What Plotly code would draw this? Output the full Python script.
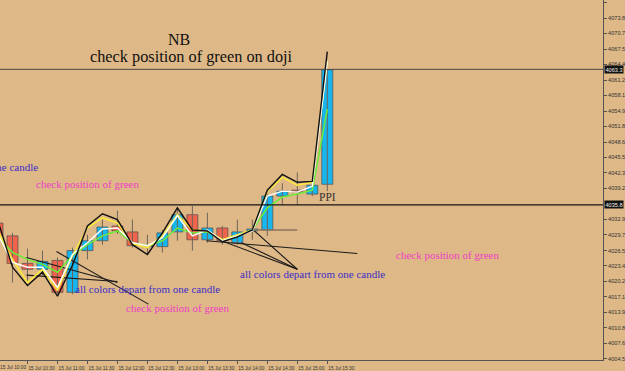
import plotly.graph_objects as go

DAY = "2014-07-15 "

# ---------------- data ----------------
times = ["10:00", "10:15", "10:30", "10:45", "11:00", "11:15", "11:30", "11:45",
         "12:00", "12:15", "12:30", "12:45", "13:00", "13:15", "13:30", "13:45",
         "14:00", "14:15", "14:30", "14:45", "15:00", "15:15", "15:30"]
opens = [4032.1, 4029.5, 4023.9, 4022.7, 4024.5, 4018.0, 4026.5, 4028.5,
         4031.5, 4030.3, 4027.3, 4027.3, 4030.3, 4033.8, 4028.7, 4031.1,
         4028.1, 4030.5, 4030.7, 4037.6, 4038.8, 4038.0, 4040.0]
highs = [4033.2, 4030.1, 4026.9, 4026.5, 4025.1, 4027.1, 4029.7, 4032.8,
         4034.6, 4032.8, 4029.7, 4030.7, 4035.2, 4035.6, 4034.2, 4031.5,
         4032.8, 4032.8, 4038.0, 4040.2, 4042.4, 4040.2, 4063.4]
lows = [4028.7, 4020.0, 4020.0, 4021.5, 4017.6, 4017.6, 4024.7, 4027.7,
        4029.9, 4027.1, 4025.7, 4026.1, 4028.5, 4026.5, 4028.1, 4027.7,
        4027.7, 4028.7, 4029.5, 4035.8, 4035.8, 4037.6, 4038.6]
closes = [4029.5, 4023.9, 4022.7, 4024.3, 4018.0, 4026.5, 4028.5, 4031.3,
          4030.5, 4027.5, 4027.5, 4030.1, 4033.8, 4028.7, 4031.1, 4028.5,
          4030.3, 4030.9, 4037.6, 4038.6, 4038.4, 4039.8, 4063.3]

ma_black = [4032.8, 4023.1, 4019.4, 4022.1, 4017.2, 4023.5, 4031.5, 4034.0,
            4032.8, 4027.7, 4025.7, 4030.1, 4035.2, 4030.7, 4030.5, 4028.3,
            4029.3, 4030.7, 4038.8, 4042.0, 4040.4, 4040.6, 4067.0]
ma_yellow = [4030.7, 4024.7, 4020.0, 4022.7, 4018.4, 4025.5, 4031.1, 4033.2,
             4032.1, 4027.9, 4027.1, 4029.5, 4033.8, 4030.7, 4030.5, 4028.7,
             4029.7, 4030.7, 4038.6, 4041.4, 4039.8, 4040.4, 4065.0]
ma_white = [4029.9, 4024.1, 4023.1, 4023.1, 4019.0, 4025.7, 4028.1, 4030.9,
            4031.1, 4028.1, 4027.5, 4029.1, 4033.6, 4029.5, 4030.7, 4028.5,
            4029.5, 4030.5, 4037.6, 4038.6, 4038.4, 4039.6, 4065.0]
ma_green = [4029.5, 4026.1, 4024.7, 4023.7, 4022.1, 4025.5, 4027.7, 4029.5,
            4030.5, 4028.1, 4027.5, 4028.5, 4031.1, 4030.1, 4030.3, 4028.7,
            4029.5, 4030.7, 4035.2, 4037.4, 4038.0, 4038.8, 4055.3]

# hand drawn trend lines (start time, start price, end time, end price)
trend_t0 = ["10:29", "10:29", "10:59", "13:29", "13:44", "14:04", "14:16"]
trend_p0 = [4025.1, 4021.5, 4026.3, 4028.5, 4028.5, 4028.1, 4030.7]
trend_t1 = ["12:00", "12:00", "12:31", "16:00", "15:00", "15:00", "15:00"]
trend_p1 = [4020.0, 4020.2, 4015.6, 4025.9, 4022.7, 4022.7, 4022.7]

# short brown horizontal level
level_t = ["14:16", "15:00"]
level_p = [4030.7, 4030.7]

# horizontal price lines
hline_prices = [4063.4, 4035.8]
hline_labels = ["4063.3", "4035.8"]

# axis ticks
x_tick_times = ["10:00", "10:30", "11:00", "11:30", "12:00", "12:30", "13:00",
                "13:30", "14:00", "14:30", "15:00", "15:30"]
y_tick_labels = ["4004.5", "4007.6", "4010.8", "4013.9", "4017.1", "4020.2",
                 "4023.4", "4026.5", "4029.7", "4032.9", "4039.2", "4042.3",
                 "4045.5", "4048.6", "4051.8", "4054.9", "4058.1", "4061.2",
                 "4064.4", "4067.5", "4070.7", "4073.8", "4077.0"]

# ---------------- figure ----------------
BG = "#DEB887"
BULL = "#17B6EE"
BEAR = "#F0644E"
xs = [DAY + t for t in times]

fig = go.Figure()

# wicks
wx, wy = [], []
for x, lo, hi in zip(xs, lows, highs):
    wx += [x, x, None]
    wy += [lo, hi, None]
fig.add_trace(go.Scatter(x=wx, y=wy, mode="lines",
                         line=dict(color="#6e6457", width=1), hoverinfo="skip"))

# bodies
base = [min(o, c) for o, c in zip(opens, closes)]
height = [max(abs(c - o), 0.2) for o, c in zip(opens, closes)]
colors = [BULL if c >= o else BEAR for o, c in zip(opens, closes)]
fig.add_trace(go.Bar(x=xs, y=height, base=base, width=660000,
                     marker=dict(color=colors, line=dict(color="#4d4d4d", width=0.7))))

# trend lines
for t0, p0, t1, p1 in zip(trend_t0, trend_p0, trend_t1, trend_p1):
    fig.add_trace(go.Scatter(x=[DAY + t0, DAY + t1], y=[p0, p1], mode="lines",
                             line=dict(color="#1a1a1a", width=1.1), hoverinfo="skip"))
fig.add_trace(go.Scatter(x=[DAY + t for t in level_t], y=level_p, mode="lines",
                         line=dict(color="#8a7660", width=1.5), hoverinfo="skip"))

# moving averages
for vals, col, w in [(ma_green, "#6CEB3A", 1.5), (ma_yellow, "#FBEA3A", 1.6),
                     (ma_white, "#FFFFFF", 1.4), (ma_black, "#111111", 1.4)]:
    fig.add_trace(go.Scatter(x=xs, y=vals, mode="lines",
                             line=dict(color=col, width=w), hoverinfo="skip"))

# horizontal lines
fig.add_shape(type="line", xref="paper", x0=0, x1=1, y0=hline_prices[0], y1=hline_prices[0],
              line=dict(color="#4a4a4a", width=1))
fig.add_shape(type="line", xref="paper", x0=0, x1=1, y0=hline_prices[1], y1=hline_prices[1],
              line=dict(color="#151515", width=1.4))

PW, PH = 608.0, 364.0


def px(x, y):
    return x / PW, 1 - y / PH


anns = []
for p, lab in zip(hline_prices, hline_labels):
    anns.append(dict(x=1, xref="paper", xanchor="left", xshift=1, y=p, yref="y",
                     text=lab, showarrow=False, bgcolor="#111111", borderpad=0.5,
                     font=dict(size=5.6, color="#eeeeee", family="Liberation Sans")))

serif = "Liberation Serif"
BLUE = "#3C2DC8"
MAG = "#EE3FC4"
notes = [
    ("NB", 180, 40, 16, "#111111", "center"),
    ("check position of green on doji", 193.5, 57, 16.3, "#111111", "center"),
    ("all colors depart from one candle", 40, 169, 11, BLUE, "right"),
    ("check position of green", 88, 186, 11, MAG, "center"),
    ("all colors depart from one candle", 149, 292, 11, BLUE, "center"),
    ("check position of green", 178.5, 311, 11, MAG, "center"),
    ("all colors depart from one candle", 315.5, 277, 11, BLUE, "center"),
    ("check position of green", 451.5, 258, 11, MAG, "center"),
    ("PPI", 330, 199, 11.5, "#333333", "center"),
]
for text, x, y, size, col, anc in notes:
    xp, yp = px(x, y)
    anns.append(dict(x=xp, y=yp, xref="paper", yref="paper", text=text, showarrow=False,
                     xanchor=anc, yanchor="middle",
                     font=dict(size=size, color=col, family=serif)))

# first (cut) time label
anns.append(dict(x=-2.0 / PW, y=0, xref="paper", yref="paper", yanchor="top", yshift=-3,
                 xanchor="left", text="15 Jul 10:00", showarrow=False,
                 font=dict(size=4.8, color="#333333", family="Liberation Sans")))

fig.update_layout(width=625, height=371, margin=dict(l=0, r=17, t=0, b=7),
                  paper_bgcolor=BG, plot_bgcolor=BG, showlegend=False,
                  annotations=anns)

fig.update_xaxes(type="date", range=[DAY + "10:02:29", DAY + "20:05:54"],
                 showgrid=False, zeroline=False, showline=True, linecolor="#555555",
                 linewidth=1, ticks="outside", ticklen=3, tickcolor="#555555",
                 tickvals=[DAY + t for t in x_tick_times],
                 ticktext=["15 Jul " + t for t in x_tick_times],
                 tickfont=dict(size=4.8, family="Liberation Sans", color="#333333"),
                 ticklabelshift=14, ticklabelstandoff=0)
fig.update_yaxes(side="right", range=[4004.22, 4077.52], showgrid=False, zeroline=False,
                 showline=True, linecolor="#555555", linewidth=1, ticks="outside",
                 ticklen=3, tickcolor="#555555",
                 tickvals=[float(v) for v in y_tick_labels], ticktext=y_tick_labels,
                 tickfont=dict(size=5.6, family="Liberation Sans", color="#333333"),
                 ticklabelstandoff=0)

fig.write_html("out.html")
